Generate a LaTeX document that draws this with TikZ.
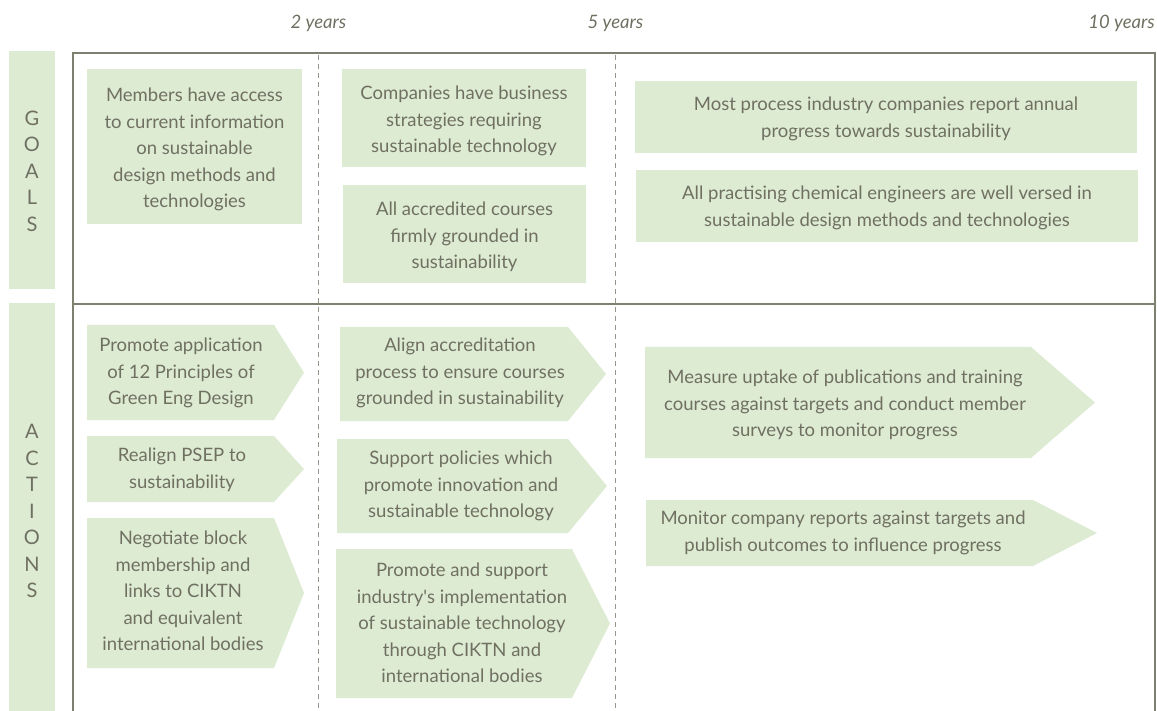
\documentclass[tikz,border=0pt]{standalone}
\usepackage{fontspec}
\setmainfont{Lato}
\definecolor{boxgreen}{RGB}{221,235,211}
\definecolor{txtgray}{RGB}{112,112,98}
\definecolor{framegray}{RGB}{128,128,112}
\definecolor{dashgray}{RGB}{150,150,140}
\tikzset{
  lbl/.style={text=txtgray, font=\fontsize{18.5}{26.5}\selectfont, align=center, inner sep=0pt},
  yearlbl/.style={text=txtgray, font=\fontsize{18.5}{20}\selectfont\itshape, inner sep=0pt},
  sidelbl/.style={text=txtgray, font=\fontsize{20}{26.5}\selectfont, align=center, inner sep=0pt},
  gbox/.style={fill=boxgreen, draw=none},
  framel/.style={draw=framegray, line width=1.2pt},
  dashl/.style={draw=dashgray, line width=1pt, dash pattern=on 5pt off 4pt},
}
\begin{document}
\begin{tikzpicture}[x=1pt,y=-1pt]
\useasboundingbox (0,0) rectangle (1157,711);
% side bars
\fill[boxgreen] (9,51) rectangle (55,289);
\fill[boxgreen] (9,303) rectangle (55,711);
\node[sidelbl] (goals) at (32,171) {G\\O\\A\\L\\S};
\node[sidelbl] (actions) at (32,511) {A\\C\\T\\I\\O\\N\\S};
% year labels
\node[yearlbl] (y2) at (318.5,23) {2 years};
\node[yearlbl] (y5) at (615.5,23) {5 years};
\node[yearlbl, anchor=east] (y10) at (1155,23) {10 years};
% frame
\draw[framel] (73,711) -- (73,53) -- (1155,53) -- (1155,711);
\draw[framel] (73,304) -- (1155,304);
\draw[dashl] (318,55) -- (318,711);
\draw[dashl] (615,55) -- (615,711);
% goals boxes
\fill[gbox] (87,69) rectangle (302,224);
\node[lbl] (g1) at (194.5,149.5) {Members have access\\to current information\\on sustainable\\design methods and\\technologies};
\fill[gbox] (342,69) rectangle (586,167);
\node[lbl] (g2) at (464,121) {Companies have business\\strategies requiring\\sustainable technology};
\fill[gbox] (343,185) rectangle (586,283);
\node[lbl] (g3) at (464.5,237) {All accredited courses\\firmly grounded in\\sustainability};
\fill[gbox] (635,81) rectangle (1137,153);
\node[lbl] (g4) at (886,119) {Most process industry companies report annual\\progress towards sustainability};
\fill[gbox] (636,170) rectangle (1138,242);
\node[lbl] (g5) at (887,208) {All practising chemical engineers are well versed in\\sustainable design methods and technologies};
% action arrows
\fill[gbox] (87,325) -- (274,325) -- (304,372.5) -- (274,420) -- (87,420) -- cycle;
\node[lbl] (a1) at (181,373) {Promote application\\of 12 Principles of\\Green Eng Design};
\fill[gbox] (87,436) -- (274,436) -- (304,469) -- (274,502) -- (87,502) -- cycle;
\node[lbl] (a2) at (182,470) {Realign PSEP to\\sustainability};
\fill[gbox] (87,518) -- (274,518) -- (304,593) -- (274,668) -- (87,668) -- cycle;
\node[lbl] (a3) at (183,591) {Negotiate block\\membership and\\links to CIKTN\\and equivalent\\international bodies};
\fill[gbox] (340,327) -- (568,327) -- (606,374) -- (568,421) -- (340,421) -- cycle;
\node[lbl] (a4) at (460,373) {Align accreditation\\process to ensure courses\\grounded in sustainability};
\fill[gbox] (337,439) -- (568,439) -- (607,486) -- (568,533) -- (337,533) -- cycle;
\node[lbl] (a5) at (461,486) {Support policies which\\promote innovation and\\sustainable technology};
\fill[gbox] (336,549) -- (572,549) -- (610,623.5) -- (572,698) -- (336,698) -- cycle;
\node[lbl] (a6) at (462,623) {Promote and support\\industry\textquotesingle s implementation\\of sustainable technology\\through CIKTN and\\international bodies};
\fill[gbox] (645,347) -- (1031,347) -- (1095,402.5) -- (1031,458) -- (645,458) -- cycle;
\node[lbl] (a7) at (845,405) {Measure uptake of publications and training\\courses against targets and conduct member\\surveys to monitor progress};
\fill[gbox] (646,500) -- (1033,500) -- (1097,533) -- (1033,566) -- (646,566) -- cycle;
\node[lbl] (a8) at (843,533) {Monitor company reports against targets and\\publish outcomes to influence progress};
\end{tikzpicture}
\end{document}
